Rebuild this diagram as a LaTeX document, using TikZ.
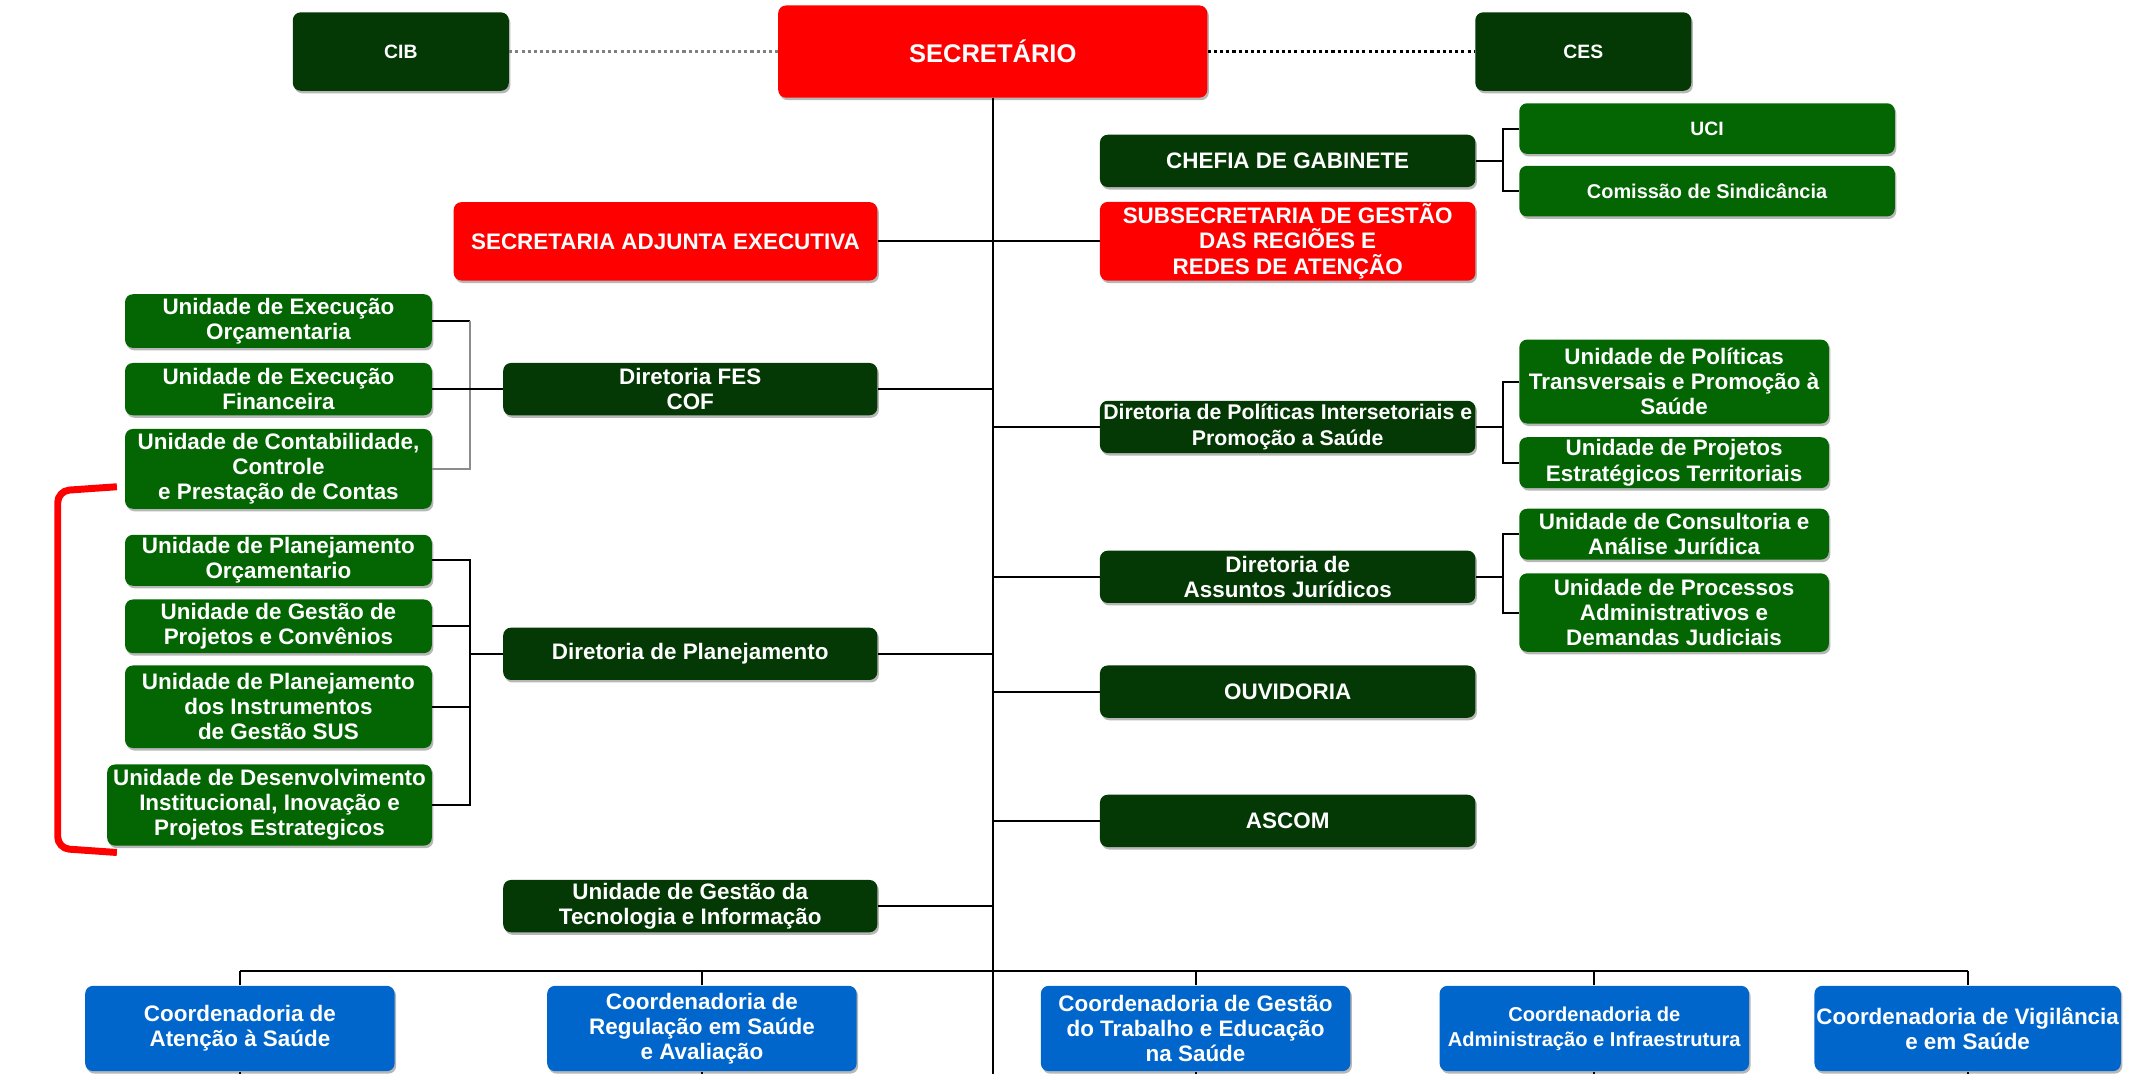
\documentclass[tikz,border=0pt]{standalone}
\usepackage{fontspec}
\setmainfont{Liberation Sans}
\usetikzlibrary{shadows}
\definecolor{verdeescuro}{RGB}{4,56,4}
\definecolor{verde}{RGB}{3,102,3}
\definecolor{vermelho}{RGB}{255,0,0}
\definecolor{azul}{RGB}{0,102,204}
\tikzset{caixa/.style={
    rounded corners=4pt, inner sep=1pt, align=center, text=white,
    font=\bfseries\fontsize{11.6}{13}\selectfont,
    drop shadow={shadow xshift=0.8pt, shadow yshift=-1.3pt, fill=black!40, opacity=0.7}
  },
  conselho/.style={caixa, fill=verdeescuro, minimum width=3.925cm, minimum height=1.425cm,
    font=\bfseries\fontsize{10}{12}\selectfont},
  topo/.style={caixa, fill=vermelho, minimum height=1.425cm},
  diretoria/.style={caixa, fill=verdeescuro, minimum width=6.825cm, minimum height=0.95cm},
  unidade/.style={caixa, fill=verde, minimum width=5.575cm},
  unidadedir/.style={caixa, fill=verde, minimum width=5.625cm},
  coord/.style={caixa, fill=azul, minimum width=5.625cm, minimum height=1.55cm},
  ligacao/.style={draw=black, line width=1pt},
  chave/.style={draw=black!45, line width=1pt},
  pontilhado/.style={line width=1.6pt, dash pattern=on 1.6pt off 1.6pt}
}

\begin{document}
\begin{tikzpicture}[x=0.025cm, y=-0.025cm]
  \useasboundingbox (0,0) rectangle (1568,781);

  \node[conselho] (cib) at (291.5,37.5) {CIB};
  \node[topo, minimum width=7.8cm, minimum height=1.675cm,
    font=\bfseries\fontsize{13.2}{15}\selectfont] (sec) at (722,37.5) {SECRETÁRIO};
  \node[conselho] (ces) at (1151.5,37.5) {CES};

  \node[diretoria] (chefia) at (936.5,117) {CHEFIA DE GABINETE};
  \node[caixa, fill=verde, minimum width=6.825cm, minimum height=0.92cm,
    font=\bfseries\fontsize{10}{12}\selectfont] (uci) at (1241.5,93.5) {UCI};
  \node[caixa, fill=verde, minimum width=6.825cm, minimum height=0.92cm,
    font=\bfseries\fontsize{10.3}{12}\selectfont] (sind) at (1241.5,139) {Comissão de Sindicância};

  \node[topo, minimum width=7.7cm] (sae) at (484,175.5) {SECRETARIA ADJUNTA EXECUTIVA};
  \node[topo, minimum width=6.825cm] (subsec) at (936.5,175.5)
    {SUBSECRETARIA DE GESTÃO\\DAS REGIÕES E\\REDES DE ATENÇÃO};

  \node[unidade, minimum height=0.975cm] (ueo) at (202.5,233.5) {Unidade de Execução\\Orçamentaria};
  \node[unidade, minimum height=0.95cm] (uef) at (202.5,283) {Unidade de Execução\\Financeira};
  \node[unidade, minimum height=1.45cm] (ucc) at (202.5,341)
    {Unidade de Contabilidade,\\Controle\\e Prestação de Contas};
  \node[diretoria, minimum width=6.8cm] (fes) at (502,283) {Diretoria FES\\COF};

  \node[unidade, minimum height=0.925cm] (upo) at (202.5,407.5) {Unidade de Planejamento\\Orçamentario};
  \node[unidade, minimum height=0.975cm] (ugp) at (202.5,455.5) {Unidade de Gestão de\\Projetos e Convênios};
  \node[unidade, minimum height=1.5cm] (upi) at (202.5,514)
    {Unidade de Planejamento\\dos Instrumentos\\de Gestão SUS};
  \node[unidade, minimum width=5.9cm, minimum height=1.475cm] (udi) at (196,585.5)
    {Unidade de Desenvolvimento\\Institucional, Inovação e\\Projetos Estrategicos};
  \node[diretoria, minimum width=6.8cm] (dplan) at (502,475.5) {Diretoria de Planejamento};
  \node[diretoria, minimum width=6.8cm] (ugti) at (502,659) {Unidade de Gestão da\\Tecnologia e Informação};

  \node[diretoria, font=\bfseries\fontsize{11}{13}\selectfont] (dpis) at (936.5,310.5)
    {Diretoria de Políticas Intersetoriais e\\Promoção a Saúde};
  \node[unidadedir, minimum height=1.525cm] (upt) at (1217.5,277.5)
    {Unidade de Políticas\\Transversais e Promoção à\\Saúde};
  \node[unidadedir, minimum height=0.925cm] (upe) at (1217.5,336.5)
    {Unidade de Projetos\\Estratégicos Territoriais};

  \node[diretoria] (daj) at (936.5,419.5) {Diretoria de\\Assuntos Jurídicos};
  \node[unidadedir, minimum height=0.925cm] (ucj) at (1217.5,388.5)
    {Unidade de Consultoria e\\Análise Jurídica};
  \node[unidadedir, minimum height=1.425cm] (upa) at (1217.5,445.5)
    {Unidade de Processos\\Administrativos e\\Demandas Judiciais};

  \node[diretoria] (ouv) at (936.5,503) {OUVIDORIA};
  \node[diretoria] (ascom) at (936.5,597) {ASCOM};

  \node[coord] (cas) at (174.5,748) {Coordenadoria de\\Atenção à Saúde};
  \node[coord] (cra) at (510.5,748) {Coordenadoria de\\Regulação em Saúde\\e Avaliação};
  \node[coord] (cgt) at (869.5,748) {Coordenadoria de Gestão\\do Trabalho e Educação\\na Saúde};
  \node[coord, font=\bfseries\fontsize{10.4}{13}\selectfont] (cai) at (1159.5,748)
    {Coordenadoria de\\Administração e Infraestrutura};
  \node[coord, minimum width=5.45cm] (cvs) at (1431,748) {Coordenadoria de Vigilância\\e em Saúde};

  \coordinate (fim) at (722,781);
  \coordinate (barra) at (722,706);
  \coordinate (jchefia) at (1093,117);
  \coordinate (jfes) at (342,283);
  \coordinate (jplan) at (342,475.5);
  \coordinate (jdpis) at (1093,310.5);
  \coordinate (jdaj) at (1093,419.5);

  \draw[pontilhado, draw=black!50] (cib) -- (sec);
  \draw[pontilhado, draw=black] (sec) -- (ces);
  \draw[ligacao] (sec.south) -- (fim);
  \draw[ligacao] (sae) -- (subsec);

  \draw[ligacao] (chefia.east) -- (jchefia);
  \draw[ligacao] (uci.west) -| (jchefia) |- (sind.west);

  \draw[ligacao] (ueo.east) -- (ueo.east -| jfes);
  \draw[chave] (ueo.east -| jfes) -- (ucc.east -| jfes) -- (ucc.east);
  \draw[ligacao] (uef.east) -- (fes.west);
  \draw[ligacao] (fes.east) -- (fes.east -| fim);

  \draw[ligacao] (upo.east) -| (jplan) |- (udi.east);
  \draw[ligacao] (ugp.east) -- (ugp.east -| jplan);
  \draw[ligacao] (upi.east) -- (upi.east -| jplan);
  \draw[ligacao] (dplan.west) -- (jplan);
  \draw[ligacao] (dplan.east) -- (dplan.east -| fim);
  \draw[ligacao] (ugti.east) -- (ugti.east -| fim);

  \draw[ligacao] (dpis.west) -- (dpis.west -| fim);
  \draw[ligacao] (dpis.east) -- (jdpis);
  \draw[ligacao] (upt.west) -| (jdpis) |- (upe.west);
  \draw[ligacao] (daj.west) -- (daj.west -| fim);
  \draw[ligacao] (daj.east) -- (jdaj);
  \draw[ligacao] (ucj.west) -| (jdaj) |- (upa.west);
  \draw[ligacao] (ouv.west) -- (ouv.west -| fim);
  \draw[ligacao] (ascom.west) -- (ascom.west -| fim);

  \draw[ligacao] (cas.north |- barra) -- (cvs.north |- barra);
  \foreach \c in {cas,cra,cgt,cai,cvs} {
    \draw[ligacao] (\c.north) -- (\c.north |- barra);
    \draw[ligacao] (\c.south) -- (\c.south |- fim);
  }

  \draw[draw=vermelho, line width=3.6pt, rounded corners=6pt] (85,354) -- (42,357) -- (42,617) -- (85,620);
\end{tikzpicture}
\end{document}
